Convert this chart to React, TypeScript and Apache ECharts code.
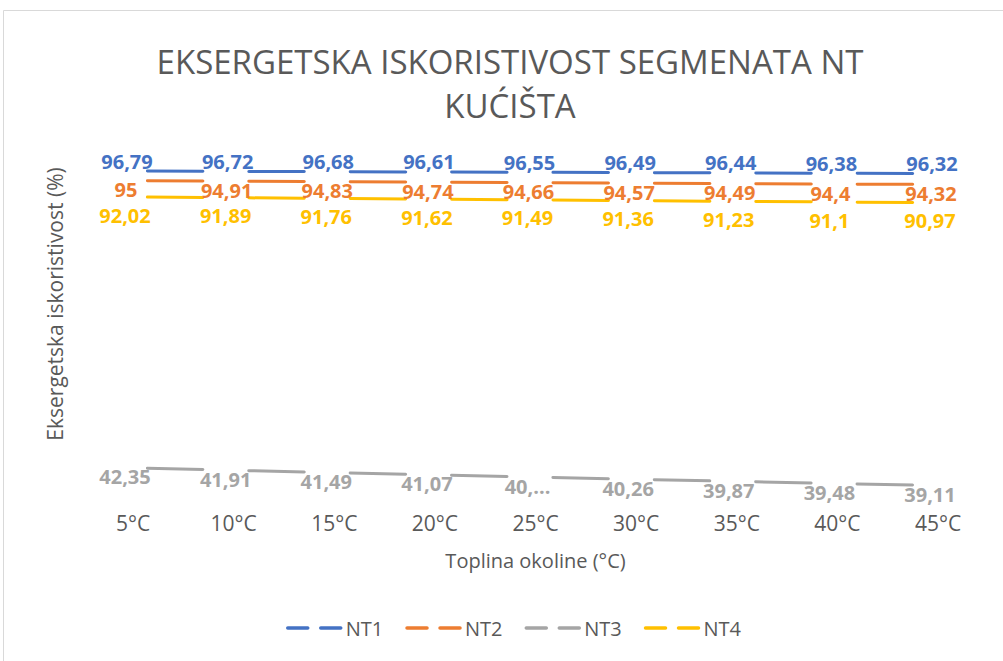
import React, { useEffect, useRef } from "react";
import * as echarts from "echarts";

const categories = ["5°C", "10°C", "15°C", "20°C", "25°C", "30°C", "35°C", "40°C", "45°C"];
const nt1 = [96.79, 96.72, 96.68, 96.61, 96.55, 96.49, 96.44, 96.38, 96.32];
const nt2 = [95, 94.91, 94.83, 94.74, 94.66, 94.57, 94.49, 94.4, 94.32];
const nt3 = [42.35, 41.91, 41.49, 41.07, 40.66, 40.26, 39.87, 39.48, 39.11];
const nt4 = [92.02, 91.89, 91.76, 91.62, 91.49, 91.36, 91.23, 91.1, 90.97];
const nt3LabelOverride: Record<number, string> = { 4: "40,..." };

const FONT = "'Open Sans', 'Noto Sans', sans-serif";

function fmt(v: number) {
  return String(v).replace(".", ",");
}

export default function App() {
  const ref = useRef<HTMLDivElement>(null);
  useEffect(() => {
    if (!ref.current) return;
    const chart = echarts.init(ref.current, undefined, { renderer: "svg" });
    const dash = [55.5, 45.9];
    const dashOffset = 87.4;
    const mk = (
      name: string,
      data: number[],
      color: string,
      offset: [number, number],
      override?: Record<number, string>
    ) => ({
      name,
      type: "line",
      data,
      symbol: "circle",
      symbolSize: 0,
      showSymbol: true,
      lineStyle: { color, width: 3, type: dash, dashOffset, cap: "round" },
      itemStyle: { color },
      label: {
        show: true,
        position: "inside",
        offset,
        color,
        fontFamily: FONT,
        fontWeight: "bold",
        fontSize: 20,
        formatter: (p: any) =>
          override && override[p.dataIndex] !== undefined ? override[p.dataIndex] : fmt(p.value),
      },
    });
    chart.setOption({
      animation: false,
      backgroundColor: "#ffffff",
      title: {
        text: "EKSERGETSKA ISKORISTIVOST SEGMENATA NT\nKUĆIŠTA",
        left: 505,
        textAlign: "center",
        top: 34,
        textStyle: {
          fontFamily: FONT,
          fontSize: 33,
          fontWeight: "normal",
          color: "#595959",
          lineHeight: 44,
        },
      },
      graphic: [
        {
          type: "rect",
          shape: { x: 3.5, y: 10.5, width: 1100, height: 700 },
          style: { fill: "none", stroke: "#D9D9D9", lineWidth: 1 },
          silent: true,
        },
        {
          type: "text",
          x: 55,
          y: 304,
          rotation: Math.PI / 2,
          style: {
            text: "Eksergetska iskoristivost (%)",
            fontFamily: FONT,
            fontSize: 21,
            fill: "#595959",
            align: "center",
            verticalAlign: "middle",
          },
        },
      ],
      legend: {
        bottom: 18,
        left: 281,
        itemWidth: 53,
        itemHeight: 4,
        itemGap: 22,
        itemStyle: { opacity: 0 },
        lineStyle: { type: [20, 13], dashOffset: 0, width: 3.5, cap: "round", opacity: 1 },
        textStyle: { fontFamily: FONT, fontSize: 20, color: "#595959" },
        data: ["NT1", "NT2", "NT3", "NT4"],
      },
      grid: { left: 133, right: 65, top: 153.5, bottom: 153 },
      xAxis: {
        type: "category",
        data: categories,
        boundaryGap: false,
        axisLine: { show: false },
        axisTick: { show: false },
        axisLabel: { fontFamily: FONT, fontSize: 21, color: "#595959", margin: 4 },
        name: "Toplina okoline (°C)",
        nameLocation: "middle",
        nameGap: 42,
        nameTextStyle: { fontFamily: FONT, fontSize: 20, color: "#595959" },
      },
      yAxis: {
        type: "value",
        min: 35,
        max: 100,
        interval: 5,
        axisLine: { show: false },
        axisTick: { show: false },
        axisLabel: { show: false },
        splitLine: { show: false },
      },
      series: [
        mk("NT1", nt1, "#4472C4", [-6, -10]),
        mk("NT2", nt2, "#ED7D31", [-7, 9]),
        mk("NT3", nt3, "#A5A5A5", [-8, 9], nt3LabelOverride),
        mk("NT4", nt4, "#FFC000", [-8, 18]),
      ],
    });
    return () => chart.dispose();
  }, []);
  return (
    <div
      ref={ref}
      style={{ position: "fixed", left: 0, top: 0, width: 1003, height: 661 }}
    />
  );
}
